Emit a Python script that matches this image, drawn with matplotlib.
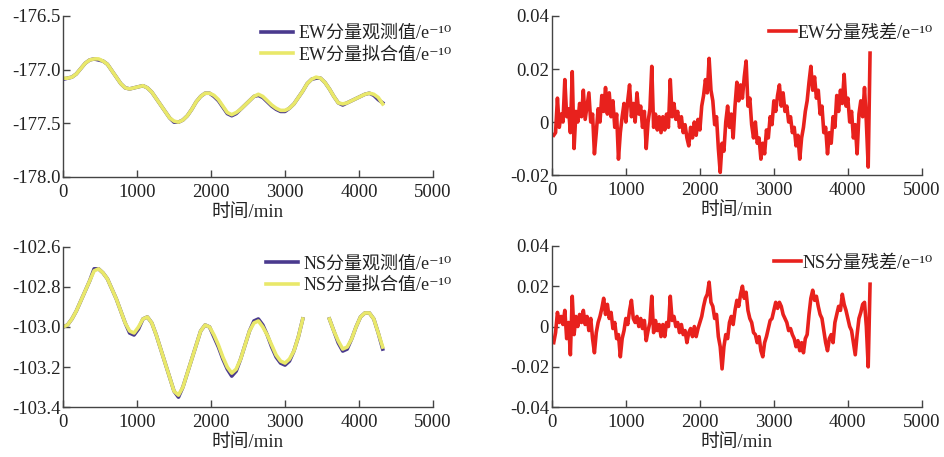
import numpy as np
import matplotlib.pyplot as plt

plt.rcParams['font.family'] = ['Liberation Serif', 'DejaVu Serif', 'Noto Sans CJK SC']
plt.rcParams['axes.unicode_minus'] = False

# ---- data ----
t_fit = np.arange(0, 4321, 60)

ew_fit = [-177.08, -177.08, -177.07, -177.04, -176.99, -176.94, -176.91, -176.90, -176.90, -176.92,
          -176.95, -177.01, -177.07, -177.13, -177.17, -177.18, -177.17, -177.16, -177.15, -177.17,
          -177.21, -177.27, -177.33, -177.39, -177.45, -177.48, -177.49, -177.47, -177.43, -177.37,
          -177.30, -177.25, -177.22, -177.22, -177.24, -177.28, -177.34, -177.40, -177.42, -177.40,
          -177.37, -177.33, -177.29, -177.25, -177.23, -177.25, -177.29, -177.33, -177.36, -177.38,
          -177.38, -177.36, -177.32, -177.26, -177.20, -177.13, -177.09, -177.07, -177.08, -177.12,
          -177.18, -177.25, -177.31, -177.32, -177.31, -177.29, -177.27, -177.25, -177.23, -177.22,
          -177.23, -177.26, -177.32]
ew_obs = [-177.09, -177.08, -177.07, -177.04, -176.99, -176.94, -176.91, -176.90, -176.91, -176.92,
          -176.95, -177.01, -177.07, -177.13, -177.17, -177.18, -177.17, -177.16, -177.15, -177.17,
          -177.21, -177.27, -177.33, -177.39, -177.45, -177.49, -177.49, -177.47, -177.43, -177.37,
          -177.30, -177.25, -177.22, -177.22, -177.25, -177.29, -177.35, -177.41, -177.43, -177.41,
          -177.37, -177.33, -177.29, -177.25, -177.24, -177.26, -177.30, -177.34, -177.37, -177.39,
          -177.39, -177.36, -177.32, -177.26, -177.20, -177.13, -177.09, -177.08, -177.08, -177.12,
          -177.18, -177.25, -177.31, -177.33, -177.31, -177.29, -177.27, -177.25, -177.23, -177.22,
          -177.24, -177.28, -177.31]

ns_fit = [-103.00, -102.99, -102.96, -102.92, -102.87, -102.82, -102.77, -102.72, -102.71, -102.73,
          -102.76, -102.81, -102.86, -102.92, -102.98, -103.02, -103.03, -103.00, -102.96, -102.95,
          -102.98, -103.04, -103.11, -103.18, -103.25, -103.32, -103.34, -103.30, -103.23, -103.16,
          -103.09, -103.02, -102.99, -103.00, -103.04, -103.09, -103.15, -103.20, -103.23, -103.21,
          -103.16, -103.09, -103.02, -102.98, -102.97, -103.00, -103.04, -103.09, -103.14, -103.17,
          -103.18, -103.16, -103.12, -103.05, -102.96, np.nan, np.nan, np.nan, np.nan, np.nan,
          -102.96, -103.02, -103.07, -103.11, -103.10, -103.06, -103.00, -102.95, -102.93, -102.93,
          -102.96, -103.03, -103.10]
ns_obs = [-103.00, -102.99, -102.96, -102.92, -102.87, -102.82, -102.77, -102.71, -102.71, -102.73,
          -102.76, -102.81, -102.86, -102.92, -102.98, -103.03, -103.04, -103.01, -102.96, -102.95,
          -102.98, -103.04, -103.11, -103.18, -103.25, -103.32, -103.35, -103.30, -103.23, -103.16,
          -103.09, -103.02, -102.99, -103.00, -103.05, -103.10, -103.16, -103.21, -103.245, -103.22,
          -103.16, -103.09, -103.02, -102.97, -102.96, -102.99, -103.04, -103.10, -103.15, -103.18,
          -103.19, -103.17, -103.12, -103.05, -102.96, np.nan, np.nan, np.nan, np.nan, np.nan,
          -102.96, -103.02, -103.08, -103.12, -103.11, -103.06, -103.00, -102.95, -102.93, -102.93,
          -102.96, -103.03, -103.11]

t_res = np.arange(25, 4301, 25)

ew_res = [-0.005,
          -0.004, 0.009, -0.002, 0.003, 0.000, 0.016, 0.002, 0.005, -0.004, 0.019,
          -0.010, 0.004, 0.000, 0.007, 0.002, 0.012, 0.001, 0.006, 0.011, 0.000,
          0.003, -0.012, -0.004, 0.005, 0.000, 0.010, 0.004, 0.013, 0.003, 0.011,
          0.002, 0.008, -0.002, 0.003, -0.014, -0.004, 0.002, 0.007, 0.000, 0.008,
          0.014, 0.002, 0.007, 0.000, 0.011, 0.003, 0.006, -0.002, 0.004, -0.010,
          0.000, 0.005, 0.021, -0.002, 0.003, -0.003, 0.002, -0.004, 0.002, -0.003,
          0.003, -0.002, 0.016, 0.002, 0.007, 0.001, 0.004, -0.002, 0.002, -0.004,
          -0.001, -0.006, -0.009, -0.002, -0.006, 0.000, -0.005, 0.001, -0.003, 0.006,
          0.010, 0.016, 0.011, 0.024, 0.012, 0.008, -0.001, 0.002, -0.010, -0.019,
          -0.008, -0.011, 0.000, 0.006, -0.002, 0.003, -0.006, 0.006, 0.015, 0.008,
          0.014, 0.009, 0.017, 0.023, 0.006, 0.009, -0.001, -0.006, 0.000, -0.008,
          -0.006, -0.014, -0.008, -0.012, -0.003, -0.006, 0.002, -0.001, 0.008, 0.004,
          0.010, 0.014, 0.006, 0.011, 0.004, 0.006, 0.000, 0.002, -0.004, -0.002,
          -0.009, -0.005, -0.014, -0.006, -0.002, 0.004, 0.008, 0.015, 0.021, 0.012,
          0.017, 0.009, 0.012, 0.003, 0.006, -0.004, -0.002, -0.012, -0.004, -0.008,
          0.002, -0.002, 0.010, 0.004, 0.012, 0.007, 0.018, 0.006, 0.009, 0.000,
          0.004, -0.006, -0.001, -0.012, 0.003, 0.008, 0.002, 0.013, 0.000, -0.017,
          0.026]

ns_res = [-0.008, -0.003, 0.007, 0.002, 0.005, 0.001, 0.008, -0.006, 0.002, -0.014,
          0.015, -0.004, 0.005, 0.000, 0.006, 0.002, 0.008, 0.001, 0.005, -0.002,
          0.004, -0.006, -0.013, -0.003, 0.002, 0.005, 0.009, 0.014, 0.006, 0.011,
          0.004, 0.007, -0.001, 0.002, -0.006, -0.004, -0.015, -0.006, -0.002, 0.004,
          0.001, 0.008, 0.013, 0.004, 0.002, 0.005, 0.000, 0.004, -0.001, 0.003,
          -0.007, -0.002, 0.002, 0.015, -0.003, 0.003, -0.002, 0.001, -0.005, 0.001,
          -0.005, 0.002, 0.000, 0.015, 0.003, 0.005, 0.000, 0.002, -0.003, 0.001,
          -0.004, -0.002, -0.008, -0.003, -0.001, -0.005, 0.000, -0.005, -0.001, 0.002,
          0.005, 0.010, 0.014, 0.016, 0.022, 0.012, 0.010, 0.004, 0.006, -0.005,
          -0.010, -0.021, -0.010, -0.004, -0.006, 0.002, 0.005, 0.001, 0.008, 0.013,
          0.010, 0.016, 0.020, 0.014, 0.017, 0.008, 0.004, 0.002, -0.003, -0.004,
          -0.008, -0.005, -0.012, -0.015, -0.008, -0.005, -0.001, 0.003, 0.004, 0.008,
          0.012, 0.009, 0.012, 0.010, 0.006, 0.004, 0.002, -0.002, -0.001, -0.004,
          -0.006, -0.010, -0.007, -0.012, -0.008, -0.013, -0.006, -0.004, 0.006, 0.014,
          0.018, 0.013, 0.015, 0.010, 0.006, 0.004, -0.002, -0.008, -0.012, -0.006,
          -0.004, -0.008, 0.002, 0.006, 0.010, 0.008, 0.016, 0.011, 0.008, 0.004,
          0.000, -0.002, -0.008, -0.014, -0.004, 0.004, 0.007, 0.011, 0.012, 0.000,
          -0.020, 0.021]

x_ticks = [0, 1000, 2000, 3000, 4000, 5000]
ew_yticks = [-176.5, -177.0, -177.5, -178.0]
ns_yticks = [-102.6, -102.8, -103.0, -103.2, -103.4]
ew_res_yticks = [0.04, 0.02, 0, -0.02]
ew_res_ylabels = ['0.04', '0.02', '0', '-0.02']
ns_res_yticks = [0.04, 0.02, 0, -0.02, -0.04]
ns_res_ylabels = ['0.04', '0.02', '0', '-0.02', '-0.04']

purple = '#4a3a8e'
yellow = '#e9e86a'
red = '#e8211d'
fs = 13.5

fig = plt.figure(figsize=(9.45, 4.57), dpi=100)
ax1 = fig.add_axes([0.0667, 0.613, 0.3915, 0.352])
ax2 = fig.add_axes([0.584, 0.617, 0.3915, 0.348])
ax3 = fig.add_axes([0.0667, 0.109, 0.3915, 0.351])
ax4 = fig.add_axes([0.584, 0.109, 0.3915, 0.353])


def style(ax, yticks, ylabels=None):
    for s in ['top', 'right']:
        ax.spines[s].set_visible(False)
    for s in ['left', 'bottom']:
        ax.spines[s].set_color('#444444')
        ax.spines[s].set_linewidth(1.0)
    ax.set_xlim(0, 5000)
    ax.set_xticks(x_ticks)
    ax.set_yticks(yticks)
    if ylabels is not None:
        ax.set_yticklabels(ylabels)
    ax.set_ylim(min(yticks), max(yticks))
    ax.tick_params(direction='in', length=5, width=1, color='#444444',
                   labelsize=fs, labelcolor='#222222')
    ax.tick_params(axis='y', pad=2)
    ax.tick_params(axis='x', pad=5)
    ax.set_xlabel('时间/min', fontsize=fs, labelpad=2, color='#222222')


leg_kw = dict(loc='upper right', frameon=False, fontsize=13, borderaxespad=0,
              labelcolor='#222222')

ax1.plot(t_fit, ew_obs, color=purple, lw=2.6, label='EW分量观测值/e⁻¹⁰')
ax1.plot(t_fit, ew_fit, color=yellow, lw=2.6, label='EW分量拟合值/e⁻¹⁰')
style(ax1, ew_yticks)
ax1.yaxis.set_major_formatter(plt.FormatStrFormatter('%.1f'))
ax1.legend(bbox_to_anchor=(1.07, 0.99), handlelength=1.8, handletextpad=0.3,
           labelspacing=0.25, **leg_kw)

ax3.plot(t_fit, ns_obs, color=purple, lw=2.6, label='NS分量观测值/e⁻¹⁰')
ax3.plot(t_fit, ns_fit, color=yellow, lw=2.6, label='NS分量拟合值/e⁻¹⁰')
style(ax3, ns_yticks)
ax3.yaxis.set_major_formatter(plt.FormatStrFormatter('%.1f'))
ax3.legend(bbox_to_anchor=(1.07, 0.99), handlelength=1.8, handletextpad=0.3,
           labelspacing=0.25, **leg_kw)

ax2.plot(t_res, ew_res, color=red, lw=2.6, label='EW分量残差/e⁻¹⁰')
style(ax2, ew_res_yticks, ew_res_ylabels)
ax2.legend(bbox_to_anchor=(1.05, 0.99), handlelength=1.5, handletextpad=0.1, **leg_kw)

ax4.plot(t_res, ns_res, color=red, lw=2.6, label='NS分量残差/e⁻¹⁰')
style(ax4, ns_res_yticks, ns_res_ylabels)
ax4.legend(bbox_to_anchor=(1.05, 0.99), handlelength=1.5, handletextpad=0.1, **leg_kw)

fig.savefig('out.png', dpi=100)
